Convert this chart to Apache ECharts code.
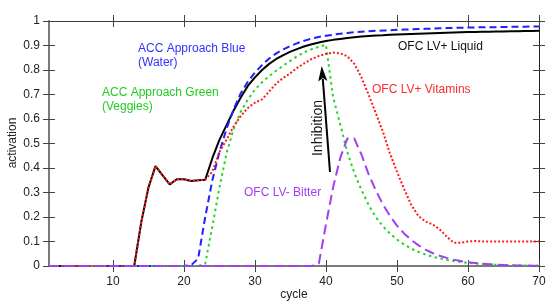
<!DOCTYPE html>
<html>
<head>
<meta charset="utf-8">
<script src="https://cdn.jsdelivr.net/npm/echarts@6/dist/echarts.min.js"></script>
<style>
html,body{margin:0;padding:0;background:#fff;}
#chart{width:554px;height:307px;}
</style>
</head>
<body>
<div id="chart"></div>
<script>
var cycles = [1,2,3,4,5,6,7,8,9,10,11,12,13,14,15,16,17,18,19,20,21,22,23,24,25,26,27,28,29,30,31,32,33,34,35,36,37,38,39,40,41,42,43,44,45,46,47,48,49,50,51,52,53,54,55,56,57,58,59,60,61,62,63,64,65,66,67,68,69,70];
var xTicks = [10,20,30,40,50,60,70];

var liquid = [0,0,0,0,0,0,0,0,0,0,0,0,0,0.18,0.32,0.408,0.37,0.333,0.354,0.354,0.347,0.35,0.352,0.44,0.515,0.575,0.635,0.688,0.735,0.77,0.80,0.825,0.845,0.861,0.875,0.886,0.897,0.905,0.912,0.918,0.923,0.927,0.931,0.934,0.937,0.939,0.941,0.942,0.944,0.945,0.946,0.947,0.948,0.949,0.95,0.951,0.952,0.953,0.954,0.955,0.955,0.956,0.956,0.957,0.957,0.958,0.958,0.959,0.959,0.96];
var water = [0,0,0,0,0,0,0,0,0,0,0,0,0,0,0,0,0,0,0,0,0.003,0.03,0.2,0.35,0.465,0.56,0.64,0.705,0.752,0.79,0.82,0.847,0.868,0.884,0.898,0.91,0.92,0.928,0.935,0.94,0.944,0.948,0.951,0.954,0.956,0.958,0.96,0.961,0.962,0.964,0.965,0.966,0.967,0.968,0.969,0.97,0.971,0.972,0.972,0.973,0.974,0.974,0.975,0.975,0.976,0.976,0.977,0.977,0.978,0.978];
var veggies = [0,0,0,0,0,0,0,0,0,0,0,0,0,0,0,0,0,0,0,0,0,0,0.01,0.16,0.32,0.46,0.56,0.63,0.68,0.72,0.75,0.775,0.797,0.818,0.838,0.857,0.873,0.885,0.895,0.903,0.69,0.58,0.465,0.38,0.31,0.25,0.2,0.163,0.133,0.108,0.088,0.071,0.058,0.047,0.038,0.031,0.025,0.02,0.016,0.013,0.01,0.008,0.006,0.005,0.004,0.003,0.002,0.002,0.001,0.001];
var vitamins = [0,0,0,0,0,0,0,0,0,0,0,0,0,0.18,0.32,0.408,0.37,0.333,0.354,0.354,0.347,0.35,0.352,0.385,0.465,0.515,0.57,0.612,0.645,0.667,0.68,0.712,0.745,0.768,0.787,0.81,0.828,0.845,0.857,0.866,0.871,0.868,0.856,0.825,0.77,0.7,0.625,0.55,0.46,0.385,0.315,0.25,0.205,0.182,0.17,0.15,0.12,0.095,0.095,0.1,0.102,0.1,0.1,0.1,0.1,0.1,0.1,0.1,0.1,0.1];
var bitter = [0,0,0,0,0,0,0,0,0,0,0,0,0,0,0,0,0,0,0,0,0,0,0,0,0,0,0,0,0,0,0,0,0,0,0,0,0,0,0.01,0.17,0.32,0.44,0.52,0.52,0.455,0.375,0.31,0.252,0.205,0.165,0.133,0.106,0.085,0.067,0.053,0.042,0.033,0.026,0.02,0.015,0.012,0.009,0.007,0.005,0.004,0.003,0.002,0.002,0.001,0.001];

var FONT = '"Liberation Sans", Arial, sans-serif';

function pairs(ys){ return cycles.map(function(c,i){ return [c, ys[i]]; }); }

function xAx(pos, inside, line, labels){
  return {
    type:'value', min:1, max:70, position:pos,
    axisLine:{show:line, onZero:false, lineStyle:{color: pos==='bottom' ? '#7a7a7a' : '#3a3a3a', width: pos==='bottom' ? 2 : 1}},
    axisTick:{show:true, inside:inside, length:6, customValues:xTicks, lineStyle:{color:'#444', width:1}},
    axisLabel:{show:labels, customValues:xTicks, fontSize:12, color:'#222', fontFamily:FONT, margin:10},
    splitLine:{show:false}
  };
}
function yAx(pos, inside, line, labels){
  return {
    type:'value', min:0, max:1, interval:0.1, position:pos,
    axisLine:{show:line, onZero:false, lineStyle:{color: pos==='left' ? '#7a7a7a' : '#222', width: pos==='left' ? 2 : 1}},
    axisTick:{show:true, inside:inside, length:6, lineStyle:{color:'#444', width:1}},
    axisLabel:{show:labels, fontSize:12, color:'#222', fontFamily:FONT, margin:9},
    splitLine:{show:false}
  };
}

function ser(name, ys, color, dash){
  return {
    name:name, type:'line', xAxisIndex:0, yAxisIndex:0, data:pairs(ys),
    showSymbol:false, symbol:'none', smooth:false,
    lineStyle:{color:color, width:2, type:dash},
    emphasis:{disabled:true}
  };
}

function txt(x, y, s, color, size){
  return {type:'text', x:x, y:y, silent:true,
    style:{text:s, fill:color, font: (size||12)+'px '+FONT, textAlign:'left', textVerticalAlign:'top', lineHeight:14}};
}

var chart = echarts.init(document.getElementById('chart'));
chart.setOption({
  animation:false,
  backgroundColor:'#fff',
  grid:{left:49, right:15, top:21, bottom:41, containLabel:false, outerBoundsMode:'none'},
  xAxis:[xAx('bottom',false,true,true), xAx('bottom',true,false,false), xAx('top',false,true,false), xAx('top',true,false,false)],
  yAxis:[yAx('left',false,true,true), yAx('left',true,false,false), yAx('right',false,true,false), yAx('right',true,false,false)],
  series:[
    ser('OFC LV+ Liquid', liquid, '#000000', 'solid'),
    ser('ACC Approach Blue (Water)', water, '#1f1fff', [7,4]),
    ser('ACC Approach Green (Veggies)', veggies, '#22d422', [2.5,3.5]),
    ser('OFC LV+ Vitamins', vitamins, '#ff1a1a', [2,2]),
    ser('OFC LV- Bitter', bitter, '#a040f5', [10,5])
  ],
  graphic:[
    {type:'text', x:13, y:143, rotation:Math.PI/2, silent:true,
     style:{text:'activation', fill:'#222', font:'12px '+FONT, textAlign:'center', textVerticalAlign:'middle'}},
    {type:'text', x:294, y:295, silent:true,
     style:{text:'cycle', fill:'#222', font:'12px '+FONT, textAlign:'center', textVerticalAlign:'middle'}},
    txt(138, 42, 'ACC Approach Blue\n(Water)', '#3333ff'),
    txt(102, 86, 'ACC Approach Green\n(Veggies)', '#22cc22'),
    txt(398, 40, 'OFC LV+ Liquid', '#111111'),
    txt(372, 83, 'OFC LV+ Vitamins', '#ff2a2a'),
    txt(244, 186, 'OFC LV- Bitter', '#a040f5'),
    {type:'text', x:318, y:128, rotation:Math.PI/2, silent:true,
     style:{text:'Inhibition', fill:'#111', font:'14px '+FONT, textAlign:'center', textVerticalAlign:'middle'}},
    {type:'line', silent:true, shape:{x1:330, y1:172, x2:322.8, y2:79},
     style:{stroke:'#000', lineWidth:2}},
    {type:'polygon', silent:true, shape:{points:[[321.7,66],[327.4,81],[322.8,78],[318.2,81.5]]},
     style:{fill:'#000'}}
  ]
});
</script>
</body>
</html>
